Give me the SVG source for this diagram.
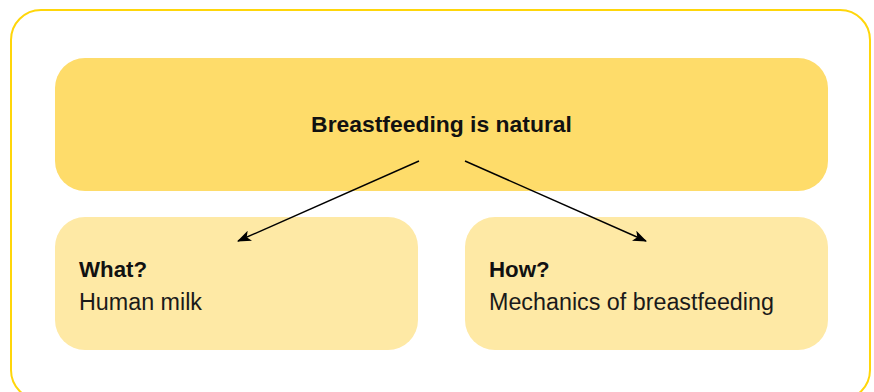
<svg xmlns="http://www.w3.org/2000/svg" width="874" height="392" viewBox="0 0 874 392">
<style>
.title{font-family:"Liberation Sans",Arial,sans-serif;font-weight:bold;font-size:22.9px;fill:#111}
.head{font-family:"Liberation Sans",Arial,sans-serif;font-weight:bold;font-size:22.3px;fill:#111}
.body{font-family:"Liberation Sans",Arial,sans-serif;font-size:23.3px;fill:#1a1a1a}
.sub{fill:#FEE9A5}
.conn{stroke:#000;stroke-width:1.4;fill:none;marker-end:url(#arr)}
</style>
<defs>
<marker id="arr" viewBox="0 0 14 11" refX="13" refY="5.5" markerWidth="14" markerHeight="11" markerUnits="userSpaceOnUse" orient="auto">
<path d="M0,0 L14,5.5 L0,11 L3.5,5.5 Z" fill="#000"/>
</marker>
</defs>
<rect x="11" y="10" width="859" height="390" rx="30" ry="30" fill="#fff" stroke="#FFD60A" stroke-width="2"/>
<g id="root">
<rect x="55" y="58" width="773" height="133" rx="30" ry="30" fill="#FEDC6A"/>
<text class="title" x="441.5" y="131.5" text-anchor="middle">Breastfeeding is natural</text>
</g>
<g id="what">
<rect class="sub" x="55" y="217" width="363" height="133" rx="30" ry="30"/>
<text class="head" x="79" y="277">What?</text>
<text class="body" x="79" y="310">Human milk</text>
</g>
<g id="how">
<rect class="sub" x="465" y="217" width="363" height="133" rx="30" ry="30"/>
<text class="head" x="489" y="277">How?</text>
<text class="body" x="489" y="310">Mechanics of breastfeeding</text>
</g>
<g id="connectors">
<line class="conn" x1="419" y1="161" x2="238" y2="241"/>
<line class="conn" x1="465" y1="161" x2="646" y2="241"/>
</g>
</svg>
